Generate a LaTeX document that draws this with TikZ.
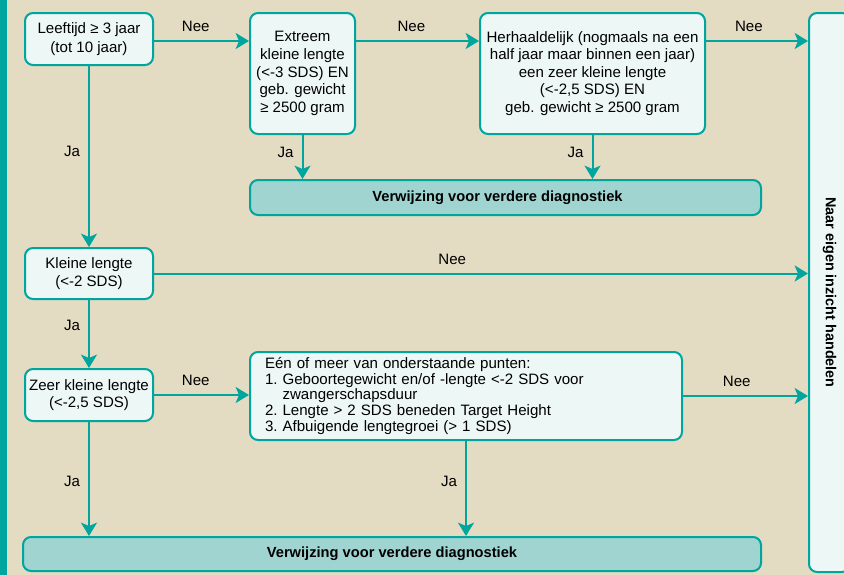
\documentclass[tikz,border=0pt]{standalone}
\usepackage{fontspec}
\setmainfont{Liberation Sans}
\usetikzlibrary{arrows.meta,positioning}
\definecolor{tealline}{RGB}{0,166,158}
\definecolor{beige}{RGB}{227,219,194}
\definecolor{boxfill}{RGB}{237,247,246}
\definecolor{verwfill}{RGB}{159,212,208}
\begin{document}
\begin{tikzpicture}[x=0.75pt,y=-0.75pt,
   box/.style={draw=tealline,fill=boxfill,line width=1.5pt,rounded corners=6pt,
      align=center,inner sep=0pt,font=\fontsize{11.3}{13.2}\selectfont},
   verw/.style={box,fill=verwfill,font=\fontsize{11}{13}\selectfont\bfseries},
   pijl/.style={draw=tealline,line width=1.5pt,-{Stealth[length=10pt,width=12pt,inset=2.5pt]}},
   lbl/.style={font=\fontsize{11.3}{13.2}\selectfont,inner sep=3pt}]
   \useasboundingbox (0,0) rectangle (844,575);
   \fill[beige] (0,0) rectangle (844,575);
   \fill[tealline] (0,0) rectangle (7,575);
   % vragen
   \node [box,minimum width=96pt,minimum height=39pt,font=\fontsize{11.3}{14}\selectfont] (Leeftijd) at (89,39) {Leeftijd ≥ 3 jaar\\(tot 10 jaar)};
   \node [box,minimum width=78.75pt,minimum height=90.75pt] (Extreem) at (302.5,73.5) {Extreem\\kleine lengte\\(<-3 SDS) EN\\geb. gewicht\\≥ 2500 gram};
   \node [box,minimum width=168.75pt,minimum height=90.75pt] (Herhaald) at (592.5,73.5) {Herhaaldelijk (nogmaals na een\\half jaar maar binnen een jaar)\\een zeer kleine lengte\\(<-2,5 SDS) EN\\geb. gewicht ≥ 2500 gram};
   \node [box,minimum width=96pt,minimum height=38.25pt] (Kleine) at (89,273.5) {Kleine lengte\\(<-2 SDS)};
   \node [box,minimum width=96pt,minimum height=39pt] (Zeer) at (89,395) {Zeer kleine lengte\\(<-2,5 SDS)};
   \node [box,minimum width=324pt,minimum height=66pt,text width=301.5pt,align=left,font=\fontsize{11.3}{11.9}\selectfont\frenchspacing] (Punten) at (466,396) {Eén of meer van onderstaande punten:\\1. Geboortegewicht en/of -lengte <-2 SDS voor\\\hphantom{1.}\ zwangerschapsduur\\2. Lengte > 2 SDS beneden Target Height\\3. Afbuigende lengtegroei (> 1 SDS)};
   % uitkomsten
   \node [verw,minimum width=383.25pt,minimum height=26.25pt] (Verw_1) at (505.5,197.5) {Verwijzing voor verdere diagnostiek\hspace*{12pt}};
   \node [verw,minimum width=553.5pt,minimum height=25.5pt] (Verw_2) at (392,554) {Verwijzing voor verdere diagnostiek};
   \node [box,minimum width=30.75pt,minimum height=419.25pt,font=\fontsize{10.8}{13}\selectfont\bfseries] (Eigen) at (829.5,292.5) {\rotatebox{-90}{Naar eigen inzicht handelen}};
   % pijlen
   \draw [pijl] (Leeftijd.east |- 0,41) -- node [lbl,pos=0.44,above=3pt] {Nee} (Extreem.west |- 0,41);
   \draw [pijl] (Extreem.east |- 0,41) -- node [lbl,pos=0.45,above=3pt] {Nee} (Herhaald.west |- 0,41);
   \draw [pijl] (Herhaald.east |- 0,41) -- node [lbl,pos=0.42,above=3pt] {Nee} (Eigen.west |- 0,41);
   \draw [pijl] (Extreem.south) -- node [lbl,pos=0.39,left=3pt] {Ja} (Extreem.south |- Verw_1.north);
   \draw [pijl] (Herhaald.south) -- node [lbl,pos=0.39,left=3pt] {Ja} (Herhaald.south |- Verw_1.north);
   \draw [pijl] (Leeftijd.south) -- node [lbl,pos=0.47,left=3pt] {Ja} (Kleine.north);
   \draw [pijl] (Kleine.east) -- node [lbl,pos=0.456,above=3pt] {Nee} (Kleine.east -| Eigen.west);
   \draw [pijl] (Kleine.south) -- node [lbl,pos=0.37,left=3pt] {Ja} (Zeer.north);
   \draw [pijl] (Zeer.east) -- node [lbl,pos=0.44,above=3pt] {Nee} (Zeer.east -| Punten.west);
   \draw [pijl] (Punten.east) -- node [lbl,pos=0.43,above=3pt] {Nee} (Punten.east -| Eigen.west);
   \draw [pijl] (Zeer.south) -- node [lbl,pos=0.52,left=3pt] {Ja} (Zeer.south |- Verw_2.north);
   \draw [pijl] (Punten.south) -- node [lbl,pos=0.42,left=3pt] {Ja} (Punten.south |- Verw_2.north);
\end{tikzpicture}
\end{document}
